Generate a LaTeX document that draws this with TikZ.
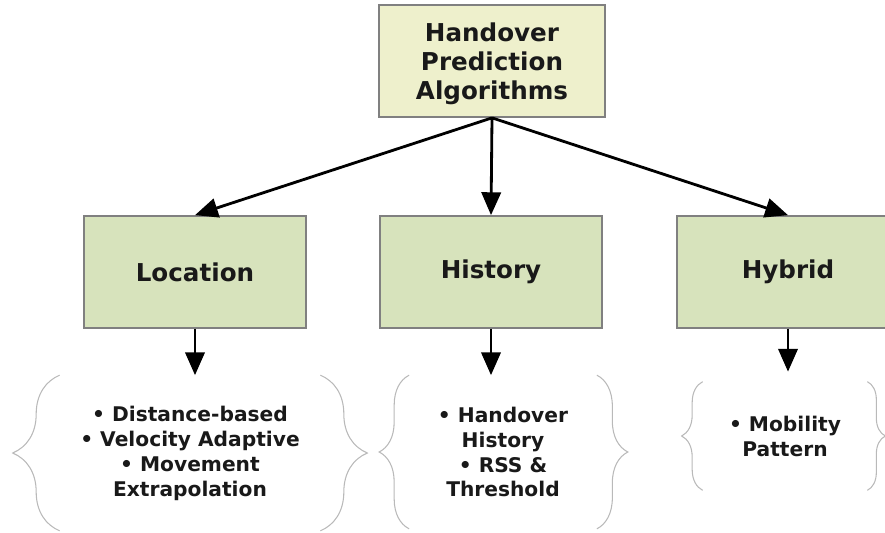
\documentclass[tikz,border=0pt]{standalone}
\usepackage{fontspec}
\setmainfont{DejaVu Sans}
\usetikzlibrary{arrows.meta, positioning, decorations.pathreplacing}
\definecolor{topfill}{RGB}{238,240,204}
\definecolor{catfill}{RGB}{215,227,188}
\definecolor{boxline}{RGB}{128,128,128}
\definecolor{bracegray}{RGB}{185,185,185}
\definecolor{ink}{RGB}{25,25,25}
\tikzstyle{toplevel} = [rectangle, draw=boxline, line width=1pt, fill=topfill, text=ink, minimum width=4.52cm, minimum height=2.24cm, align=center, font=\fontsize{14}{16.5}\selectfont\bfseries]
\tikzstyle{category} = [rectangle, draw=boxline, line width=1pt, fill=catfill, text=ink, minimum width=4.44cm, minimum height=2.24cm, font=\fontsize{14}{16}\selectfont\bfseries]
\tikzstyle{items} = [rectangle, align=center, inner sep=0pt, text=ink, font=\fontsize{11.5}{14.2}\selectfont\bfseries]
\tikzstyle{arrow} = [line width=1.6pt,-{Triangle[length=13pt,width=11pt]}]
\tikzset{bracket/.style={draw=bracegray, line width=0.6pt, decorate, decoration={brace, amplitude=#1}}}

\begin{document}
\begin{tikzpicture}[x=0.02cm,y=-0.02cm]
  \clip (0,0) rectangle (885,533);
  \useasboundingbox (0,0) rectangle (885,533);

  \node[toplevel] (hpa) at (492,61) {\\[-3pt]Handover\\Prediction\\Algorithms};

  \node[category] (loc) at (195,272) {Location};
  \node[category] (hist) at (491,272) {History};
  \node[category] (hyb) at (788,272) {Hybrid};

  \node[items, minimum width=5.2cm, minimum height=3.1cm] (locitems) at (190,453)
    {\textbullet{} Distance-based\\\textbullet{} Velocity Adaptive\\\textbullet{} Movement\\Extrapolation};
  \node[items, minimum width=3.74cm, minimum height=3.06cm] (histitems) at (503,452)
    {\textbullet{} Handover\\History\\\textbullet{} RSS \&\\Threshold};
  \node[items, minimum width=3.28cm, minimum height=2.16cm] (hybitems) at (785,436)
    {\textbullet{} Mobility\\Pattern};

  \draw[arrow] (hpa.south) -- (loc.north);
  \draw[arrow] (hpa.south) -- (hist.north);
  \draw[arrow] (hpa.south) -- (hyb.north);

  \draw[arrow] (loc.south) -- (loc.south |- locitems.north);
  \draw[arrow] (hist.south) -- (hist.south |- histitems.north);
  \draw[arrow] (hyb.south) -- ([yshift=0.2cm]hyb.south |- hybitems.north);

  \draw[bracket=0.94cm] (locitems.south west) -- (locitems.north west);
  \draw[bracket=0.94cm] (locitems.north east) -- (locitems.south east);
  \draw[bracket=0.6cm] (histitems.south west) -- (histitems.north west);
  \draw[bracket=0.62cm] (histitems.north east) -- (histitems.south east);
  \draw[bracket=0.42cm] (hybitems.south west) -- (hybitems.north west);
  \draw[bracket=0.36cm] (hybitems.north east) -- (hybitems.south east);
\end{tikzpicture}
\end{document}
